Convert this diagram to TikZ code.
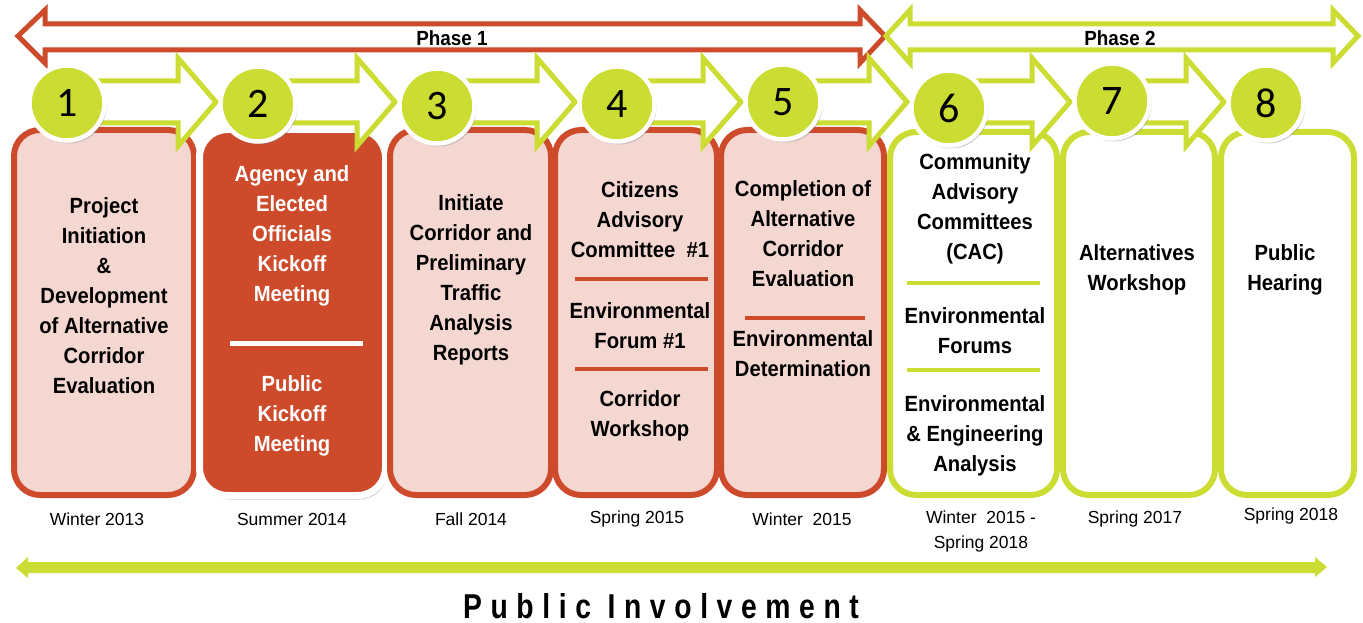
\documentclass[tikz,border=0pt]{standalone}
\usepackage{fontspec}
\setmainfont{Liberation Sans}
\newfontfamily\bx[FakeStretch=0.92]{Liberation Sans}
\newfontfamily\numfont{Carlito}
\newfontfamily\pifont[LetterSpace=25,FakeStretch=0.82]{Liberation Sans}
\usetikzlibrary{shadows,calc}
\definecolor{rd}{RGB}{205,74,43}
\definecolor{pk}{RGB}{245,215,210}
\definecolor{gr}{RGB}{203,220,50}
\tikzset{
 box/.style={draw=rd, line width=6pt, fill=pk, rounded corners=26pt},
 gbox/.style={draw=gr, line width=6pt, fill=white, rounded corners=26pt},
 rbox/.style={draw=white, line width=7pt, fill=rd, rounded corners=28pt,
   drop shadow={opacity=0.4, shadow xshift=2pt, shadow yshift=-4pt}},
 txt/.style={align=center, font=\bx\bfseries\fontsize{22}{30}\selectfont, inner sep=0pt},
 wtxt/.style={txt, text=white},
 datelbl/.style={align=center, font=\fontsize{17.5}{25}\selectfont, inner sep=0pt},
 phaselbl/.style={font=\bx\bfseries\fontsize{20.5}{20}\selectfont, inner sep=0pt},
 num/.style={circle, fill=gr, draw=white, line width=4.5pt, minimum size=75pt, inner sep=0pt,
   font=\numfont\fontsize{42}{42}\selectfont,
   drop shadow={opacity=0.35, shadow xshift=2pt, shadow yshift=-3pt}},
 blk/.style={draw=gr, line width=5pt, fill=white, line join=miter},
 rsep/.style={draw=rd, line width=4pt},
 gsep/.style={draw=gr, line width=4pt},
 wsep/.style={draw=white, line width=5pt},
}
\newcommand\blkarrow[2]{%
 \draw[blk] let \p1=(#1), \p2=(#2) in
  (\x1,-81pt) -- (\x2-80pt,-81pt) -- (\x2-80pt,-58pt) -- (\x2-42pt,-102pt)
  -- (\x2-80pt,-146pt) -- (\x2-80pt,-123pt) -- (\x1,-123pt) -- cycle;}
\begin{document}
\begin{tikzpicture}[x=1pt,y=-1pt]
\useasboundingbox[fill=white] (0,0) rectangle (1363,623);

% boxes
\node[box,  minimum width=180pt, minimum height=365pt] (b1) at (104,312.5) {};
\node[rbox, minimum width=186pt, minimum height=366pt] (b2) at (292.5,312.5) {};
\node[box,  minimum width=161pt, minimum height=365pt] (b3) at (470.5,312.5) {};
\node[box,  minimum width=162pt, minimum height=365pt] (b4) at (636,312.5) {};
\node[box,  minimum width=163pt, minimum height=365pt] (b5) at (802.5,312.5) {};
\node[gbox, minimum width=167pt, minimum height=363pt] (b6) at (973.5,313.5) {};
\node[gbox, minimum width=152pt, minimum height=363pt] (b7) at (1139,313.5) {};
\node[gbox, minimum width=133pt, minimum height=363pt] (b8) at (1287.5,313.5) {};

% separators
\draw[wsep] (230,343) -- (363,343);
\draw[rsep] (575,279) -- (708,279);
\draw[rsep] (575,369) -- (708,369);
\draw[rsep] (745,318) -- (865,318);
\draw[gsep] (907,283) -- (1040,283);
\draw[gsep] (907,370) -- (1040,370);

% box texts
\node[txt] (t1) at (104,296) {Project\\Initiation\\\&\\Development\\of Alternative\\Corridor\\Evaluation};
\node[wtxt] (t2a) at (292,236) {Agency and\\Elected\\Officials\\Kickoff\\Meeting};
\node[wtxt] (t2b) at (292,416) {Public\\Kickoff\\Meeting};
\node[txt] (t3) at (471,280) {Initiate\\Corridor and\\Preliminary\\Traffic\\Analysis\\Reports};
\node[txt] (t4a) at (640,220) {Citizens\\Advisory\\Committee\ \ \#1};
\node[txt] (t4b) at (640,326) {Environmental\\Forum \#1};
\node[txt] (t4c) at (640,416) {Corridor\\Workshop};
\node[txt] (t5a) at (803,234) {Completion of\\Alternative\\Corridor\\Evaluation};
\node[txt] (t5b) at (803,354) {Environmental\\Determination};
\node[txt] (t6a) at (975,209) {Community\\Advisory\\Committees\\(CAC)};
\node[txt] (t6b) at (975,331) {Environmental\\Forums};
\node[txt] (t6c) at (975,436) {Environmental\\\& Engineering\\Analysis};
\node[txt] (t7) at (1137,270) {Alternatives\\Workshop};
\node[txt] (t8) at (1285,270) {Public\\Hearing};

% dates
\node[datelbl] (d1) at (97,519) {Winter 2013};
\node[datelbl] (d2) at (292,519) {Summer 2014};
\node[datelbl] (d3) at (471,519) {Fall 2014};
\node[datelbl] (d4) at (637,519) {Spring 2015};
\node[datelbl] (d5) at (802,519) {Winter\ \ 2015};
\node[datelbl] (d6) at (981,531) {Winter\ \ 2015 -\\Spring 2018};
\node[datelbl] (d7) at (1135,519) {Spring 2017};
\node[datelbl] (d8) at (1291,516) {Spring 2018};

% phase arrows
\draw[draw=rd, line width=5pt, fill=white, line join=miter]
  (18,36) -- (45,10) -- (45,24) -- (860,24) -- (860,10) -- (885,36)
  -- (860,63) -- (860,50) -- (45,50) -- (45,63) -- cycle;
\draw[draw=gr, line width=5pt, fill=white, line join=miter]
  (886,36) -- (910,10) -- (910,24) -- (1333,24) -- (1333,10) -- (1358,36)
  -- (1333,63) -- (1333,50) -- (910,50) -- (910,63) -- cycle;
\node[phaselbl] (ph1) at (452,38) {Phase 1};
\node[phaselbl] (ph2) at (1120,38) {Phase 2};

% circle positions
\coordinate (p1) at (67,103);
\coordinate (p2) at (258,104);
\coordinate (p3) at (437,106);
\coordinate (p4) at (617,104);
\coordinate (p5) at (783,102);
\coordinate (p6) at (949,108);
\coordinate (p7) at (1112,101);
\coordinate (p8) at (1266,103);

% block arrows
\blkarrow{p1}{p2}
\blkarrow{p2}{p3}
\blkarrow{p3}{p4}
\blkarrow{p4}{p5}
\blkarrow{p5}{p6}
\blkarrow{p6}{p7}
\blkarrow{p7}{p8}

% circles
\node[num] (c1) at (p1) {1};
\node[num] (c2) at (p2) {2};
\node[num] (c3) at (p3) {3};
\node[num] (c4) at (p4) {4};
\node[num] (c5) at (p5) {5};
\node[num] (c6) at (p6) {6};
\node[num] (c7) at (p7) {7};
\node[num] (c8) at (p8) {8};

% public involvement arrow
\coordinate (pl) at (16,568);
\coordinate (pr) at (1327,567);
\fill[gr] (pl) -- (28,557) -- (28,562) -- (1315,562) -- (1315,557) -- (pr)
  -- (1315,577) -- (1315,573) -- (28,573) -- (28,578) -- cycle;
\node[font=\pifont\bfseries\fontsize{34.5}{34}\selectfont, inner sep=0pt] (pi) at (661,606) {Public Involvement};
\end{tikzpicture}
\end{document}
